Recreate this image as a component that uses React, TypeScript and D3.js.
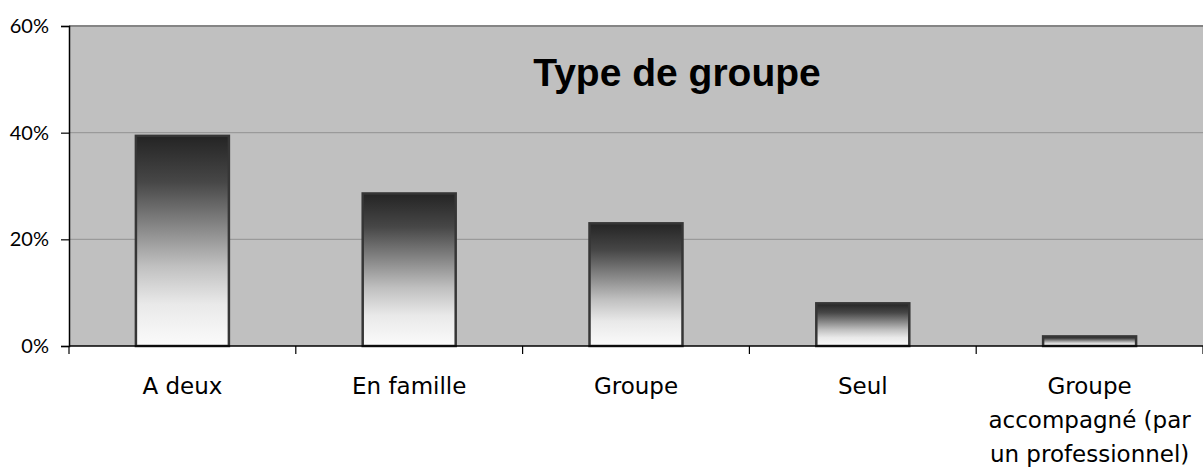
import React, { useEffect, useRef } from 'react';
import * as d3 from 'd3';

// data
const categories = ['A deux', 'En famille', 'Groupe', 'Seul', 'Groupe\naccompagné (par\nun professionnel)'];
const values = [39.4, 28.6, 23.0, 8.0, 1.8];
const yTicks = [0, 20, 40, 60];
const title = 'Type de groupe';

const W = 1203;
const H = 471;

function App() {
	const ref = useRef<SVGSVGElement>(null);

	useEffect(() => {
		document.body.style.margin = '0';
		const svg = d3.select(ref.current);
		svg.selectAll('*').remove();

		const margin = { top: 26, right: 0, bottom: 125, left: 69 };
		const x = d3.scaleBand().domain(categories).range([margin.left, W - margin.right]).padding(0);
		const y = d3.scaleLinear().domain([0, 60]).range([H - margin.bottom, margin.top]);
		const barW = x.bandwidth() * 0.41;

		// gradient for bars
		const defs = svg.append('defs');
		const grad = defs.append('linearGradient').attr('id', 'barGrad').attr('x1', 0).attr('y1', 0).attr('x2', 0).attr('y2', 1);
		[[0, '#242424'], [0.22, '#474747'], [0.45, '#8c8c8c'], [0.62, '#c0c0c0'], [0.8, '#e9e9e9'], [1, '#fbfbfb']].forEach(s => {
			grad.append('stop').attr('offset', s[0] as number).attr('stop-color', s[1] as string);
		});

		// plot background
		svg.append('rect')
			.attr('x', margin.left).attr('y', y(60))
			.attr('width', W - margin.left - margin.right).attr('height', y(0) - y(60))
			.attr('fill', '#c0c0c0');

		// gridlines
		svg.append('g').selectAll('line').data(yTicks.filter(t => t > 0 && t < 60)).join('line')
			.attr('x1', margin.left).attr('x2', W - margin.right)
			.attr('y1', d => y(d)).attr('y2', d => y(d))
			.attr('stroke', '#9a9a9a').attr('stroke-width', 1.2);
		svg.append('line')
			.attr('x1', margin.left).attr('x2', W - margin.right)
			.attr('y1', y(60)).attr('y2', y(60))
			.attr('stroke', '#858585').attr('stroke-width', 2);

		// bars
		svg.append('g').selectAll('rect').data(values).join('rect')
			.attr('x', (d, i) => x(categories[i])! + (x.bandwidth() - barW) / 2)
			.attr('y', d => y(d))
			.attr('width', barW)
			.attr('height', d => y(0) - y(d))
			.attr('fill', 'url(#barGrad)')
			.attr('stroke', '#363636').attr('stroke-width', 2.5);

		// y axis
		const yAxis = svg.append('g').attr('transform', `translate(${margin.left},0)`)
			.call(d3.axisLeft(y).tickValues(yTicks).tickSize(8).tickPadding(12).tickFormat(d => d + '%'));
		yAxis.select('.domain').attr('stroke', '#000').attr('stroke-width', 1.5);
		yAxis.selectAll('.tick line').attr('stroke', '#000').attr('stroke-width', 1.2);
		yAxis.selectAll('text').attr('font-family', 'Lato').attr('font-size', '20px').attr('fill', '#000');

		// x axis
		const xTickPos = d3.range(categories.length + 1).map(i => margin.left + i * x.step());
		svg.append('g').selectAll('line').data(xTickPos).join('line')
			.attr('x1', d => d).attr('x2', d => d)
			.attr('y1', y(0)).attr('y2', y(0) + 8)
			.attr('stroke', '#000').attr('stroke-width', 1.2);
		svg.append('line')
			.attr('x1', margin.left).attr('x2', W)
			.attr('y1', y(0)).attr('y2', y(0))
			.attr('stroke', '#000').attr('stroke-width', 1.5);

		const labels = svg.append('g').selectAll('text').data(categories).join('text')
			.attr('text-anchor', 'middle')
			.attr('font-family', 'DejaVu Sans')
			.attr('font-size', '23px')
			.attr('fill', '#000')
			.attr('x', d => x(d)! + x.bandwidth() / 2)
			.attr('y', 394);
		labels.each(function (d) {
			const t = d3.select(this);
			const cx = x(d)! + x.bandwidth() / 2;
			d.split('\n').forEach((line, i) => {
				t.append('tspan').attr('x', cx).attr('dy', i === 0 ? 0 : 34).text(line);
			});
		});

		// title
		svg.append('text')
			.attr('x', 677).attr('y', 86)
			.attr('text-anchor', 'middle')
			.attr('font-family', 'Liberation Sans')
			.attr('font-weight', 'bold')
			.attr('font-size', '39px')
			.attr('fill', '#000')
			.text(title);
	}, []);

	return <svg ref={ref} width={W} height={H} style={{ display: 'block' }} />;
}

export default App;
